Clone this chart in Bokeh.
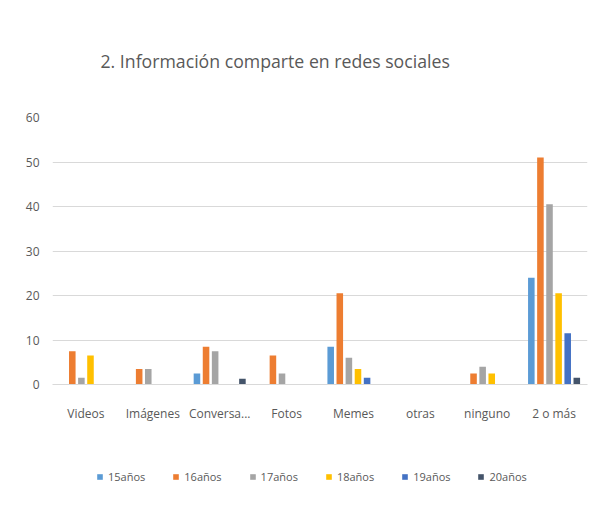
from bokeh.plotting import figure
from bokeh.models import ColumnDataSource, Legend, LegendItem, Range1d
from bokeh.layouts import column
from bokeh.transform import dodge
from bokeh.embed import file_html
from bokeh.resources import INLINE

categories = ["Videos", "Imágenes", "Conversa...", "Fotos", "Memes", "otras", "ninguno", "2 o más"]
series_names = ["15años", "16años", "17años", "18años", "19años", "20años"]
s15 = [0, 0, 2.5, 0, 8.5, 0, 0, 24]
s16 = [7.5, 3.5, 8.5, 6.5, 20.5, 0, 2.5, 51]
s17 = [1.5, 3.5, 7.5, 2.5, 6, 0, 4, 40.5]
s18 = [6.5, 0, 0, 0, 3.5, 0, 2.5, 20.5]
s19 = [0, 0, 0, 0, 1.5, 0, 0, 11.5]
s20 = [0, 0, 1.3, 0, 0, 0, 0, 1.5]
y_ticks = [0, 10, 20, 30, 40, 50, 60]

colors = ["#5B9BD5", "#ED7D31", "#A5A5A5", "#FFC000", "#4472C4", "#44546A"]
series = [s15, s16, s17, s18, s19, s20]
keys = ["s15", "s16", "s17", "s18", "s19", "s20"]

data = {"cat": categories}
for k, s in zip(keys, series):
    data[k] = s
source = ColumnDataSource(data)

FONT = "Open Sans"
TXT = "#595959"

p = figure(x_range=categories, y_range=Range1d(0, 60), width=588, height=440,
           output_backend="svg", toolbar_location=None,
           min_border_left=52, min_border_right=1, min_border_top=117, min_border_bottom=56)
p.outline_line_color = None
p.background_fill_color = "white"
p.border_fill_color = "white"

p.title.text = "2. Información comparte en redes sociales"
p.title.align = "left"
p.title.offset = 48
p.title.text_font = FONT
p.title.text_font_size = "17.7px"
p.title.text_font_style = "normal"
p.title.text_color = TXT
p.title.standoff = 90

step = 0.136
for i, (k, c) in enumerate(zip(keys, colors)):
    p.vbar(x=dodge("cat", (i - 2.5) * step, range=p.x_range), top=k, width=0.098,
           source=source, fill_color=c, line_color=None)

p.yaxis.ticker = y_ticks
p.yaxis.axis_line_color = None
p.yaxis.major_tick_line_color = None
p.yaxis.minor_tick_line_color = None
p.yaxis.major_label_standoff = 7
p.yaxis.major_label_text_font = FONT
p.yaxis.major_label_text_font_size = "12px"
p.yaxis.major_label_text_color = TXT

p.xaxis.axis_line_color = "#D9D9D9"
p.xaxis.major_tick_line_color = None
p.xaxis.minor_tick_line_color = None
p.xaxis.major_label_standoff = 14
p.xaxis.major_label_text_font = FONT
p.xaxis.major_label_text_font_size = "12px"
p.xaxis.major_label_text_color = TXT

p.xgrid.grid_line_color = None
p.ygrid.grid_line_color = "#D9D9D9"
p.ygrid.grid_line_width = 1

# legend in its own strip below the chart (zero-size proxy bars give the swatches)
q = figure(width=588, height=70, x_range=Range1d(0, 1), y_range=Range1d(0, 1),
           output_backend="svg", toolbar_location=None,
           min_border_left=0, min_border_right=0, min_border_top=0, min_border_bottom=0)
q.outline_line_color = None
q.axis.visible = False
q.grid.visible = False
q.border_fill_color = "white"

items = []
for name, c in zip(series_names, colors):
    r = q.vbar(x=[0], top=[0], width=0, fill_color=c, line_color=None)
    items.append(LegendItem(label=name, renderers=[r]))

legend = Legend(items=items, orientation="horizontal", location=(44, 26),
                glyph_width=7, glyph_height=7, label_standoff=5, spacing=27,
                label_text_font=FONT, label_text_font_size="11px", label_text_color=TXT,
                border_line_color=None, background_fill_alpha=0, margin=0, padding=0)
q.add_layout(legend)

layout = column(p, q, spacing=0)
open("out.html", "w").write(file_html(layout, INLINE))
